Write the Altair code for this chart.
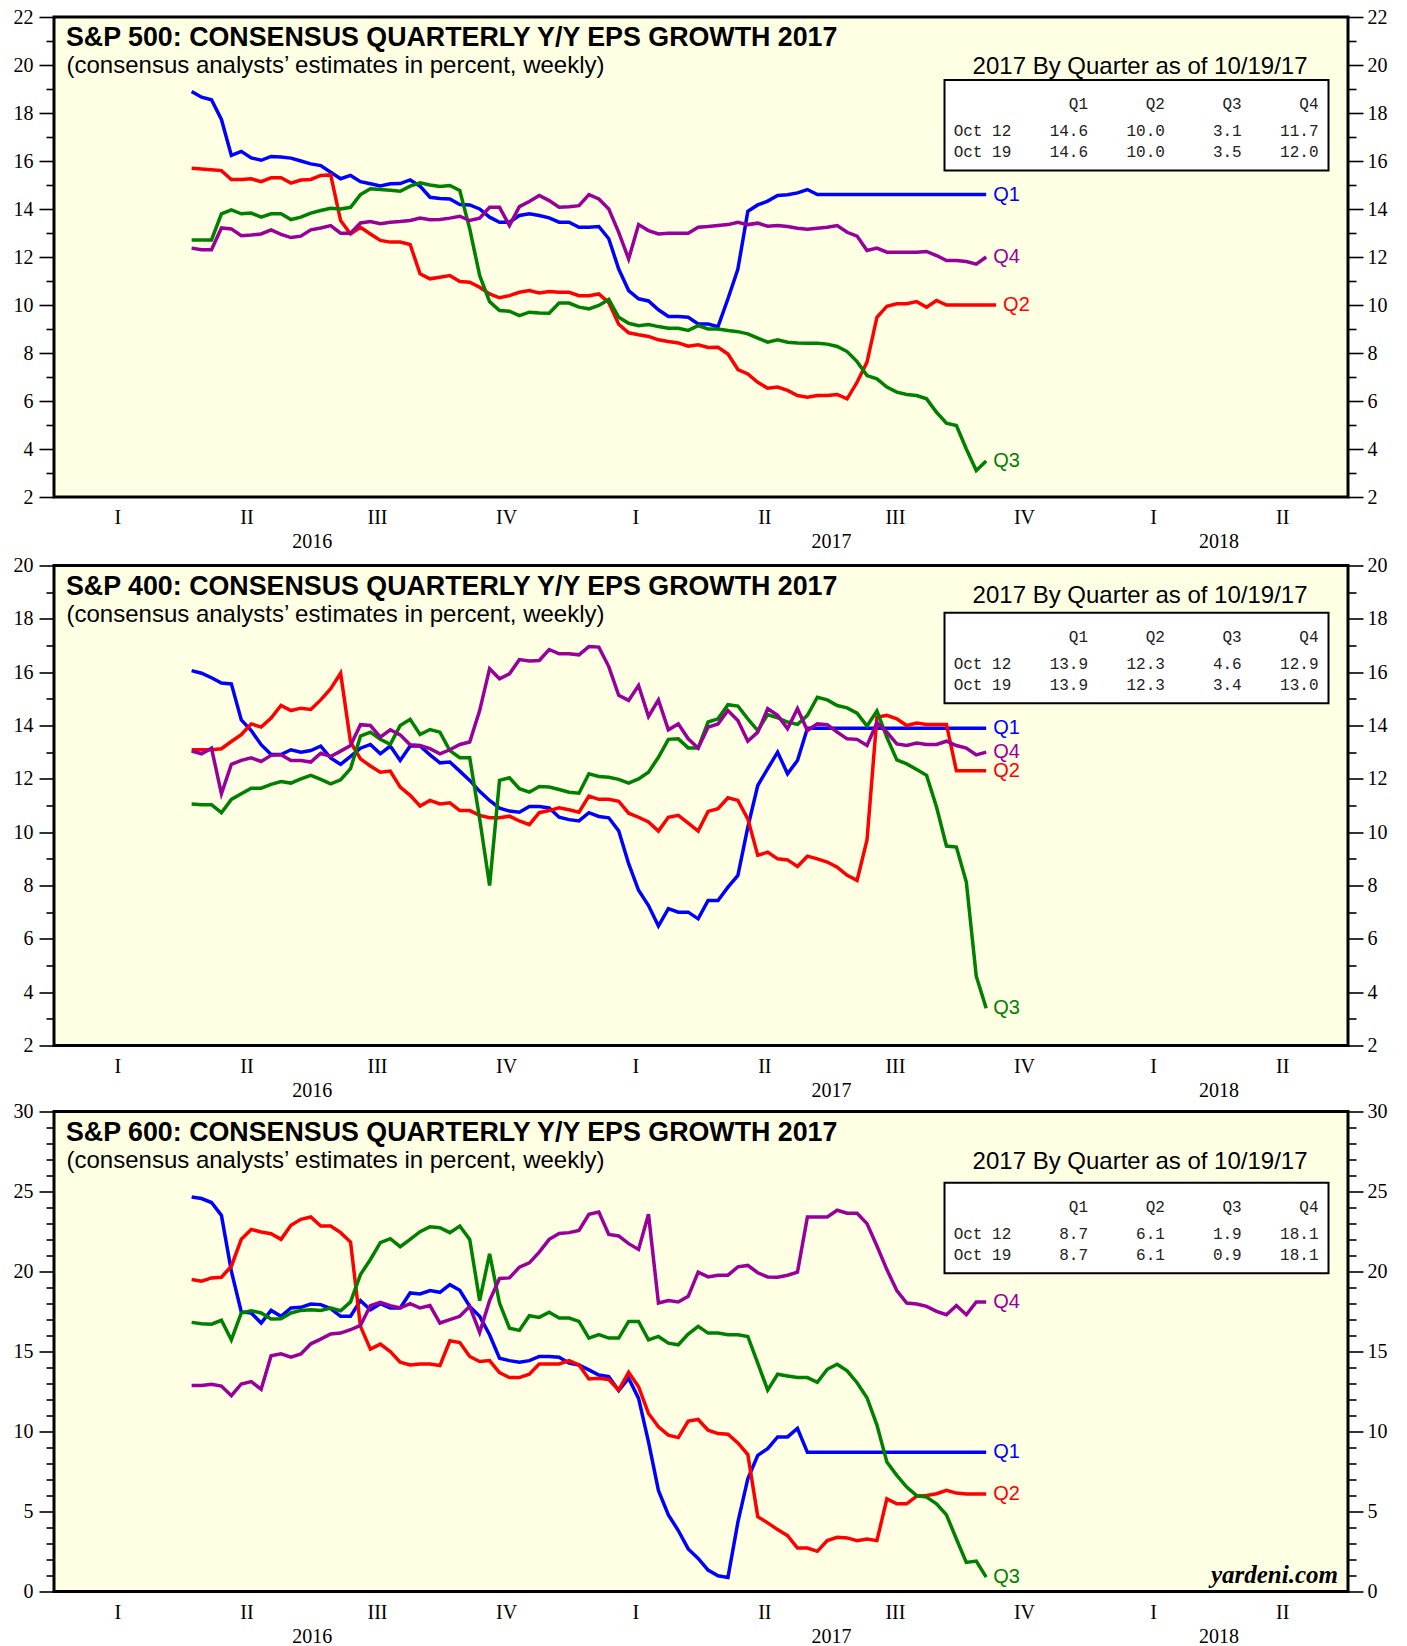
import altair as alt
import pandas as pd

QS = ["Q1", "Q2", "Q3", "Q4"]
COLORS = ["#0000FF", "#FF0000", "#008000", "#990099"]
W = 1294
H = 480

week0 = pd.Timestamp("2016-04-07")
weeks = [(week0 + pd.Timedelta(weeks=i)).strftime("%Y-%m-%d") for i in range(82)]

# ---------------- S&P 500 ----------------
sp500_q1 = [18.9, 18.66, 18.55, 17.73, 16.23, 16.4, 16.13, 16.03, 16.19, 16.17,
            16.12, 16.0, 15.88, 15.81, 15.53, 15.26, 15.4, 15.14, 15.05, 14.96,
            15.05, 15.06, 15.21, 14.95, 14.49, 14.44, 14.42, 14.19, 14.17, 14.0,
            13.66, 13.45, 13.45, 13.73, 13.8, 13.73, 13.63, 13.45, 13.45, 13.24,
            13.24, 13.27, 12.76, 11.5, 10.6, 10.26, 10.17, 9.8, 9.52, 9.52,
            9.49, 9.21, 9.21, 9.1, 10.26, 11.5, 13.9, 14.17, 14.33, 14.56,
            14.59, 14.67, 14.81, 14.6, 14.6, 14.6, 14.6, 14.6, 14.6, 14.6,
            14.6, 14.6, 14.6, 14.6, 14.6, 14.6, 14.6, 14.6, 14.6, 14.6,
            14.6]
sp500_q2 = [15.7, 15.67, 15.64, 15.6, 15.23, 15.23, 15.26, 15.14, 15.3, 15.3,
            15.08, 15.21, 15.23, 15.4, 15.42, 13.52, 12.96, 13.24, 12.96, 12.69,
            12.62, 12.62, 12.52, 11.3, 11.09, 11.16, 11.23, 10.98, 10.95, 10.74,
            10.46, 10.3, 10.39, 10.53, 10.6, 10.5, 10.56, 10.53, 10.53, 10.39,
            10.39, 10.46, 10.1, 9.2, 8.84, 8.76, 8.69, 8.55, 8.48, 8.42,
            8.28, 8.34, 8.23, 8.24, 7.96, 7.31, 7.13, 6.78, 6.53, 6.58,
            6.44, 6.23, 6.16, 6.23, 6.23, 6.27, 6.09, 6.78, 7.62, 9.49,
            9.95, 10.05, 10.05, 10.14, 9.91, 10.19, 10.0, 10.0, 10.0, 10.0,
            10.0, 10.0]
sp500_q3 = [12.71, 12.71, 12.71, 13.8, 13.96, 13.8, 13.83, 13.66, 13.8, 13.8,
            13.56, 13.66, 13.83, 13.94, 14.03, 14.0, 14.07, 14.6, 14.84, 14.81,
            14.78, 14.74, 14.95, 15.09, 15.0, 14.94, 14.98, 14.77, 13.17, 11.23,
            10.14, 9.77, 9.74, 9.56, 9.7, 9.67, 9.66, 10.08, 10.08, 9.91,
            9.84, 9.98, 10.23, 9.49, 9.24, 9.14, 9.19, 9.1, 9.03, 9.03,
            8.94, 9.14, 9.0, 9.0, 8.94, 8.89, 8.8, 8.62, 8.45, 8.55,
            8.45, 8.42, 8.41, 8.41, 8.37, 8.27, 8.06, 7.64, 7.06, 6.92,
            6.58, 6.37, 6.27, 6.23, 6.09, 5.53, 5.08, 4.98, 4.0, 3.1,
            3.5]
sp500_q4 = [12.37, 12.3, 12.3, 13.21, 13.17, 12.89, 12.92, 12.96, 13.13, 12.94,
            12.81, 12.87, 13.13, 13.21, 13.31, 12.99, 12.99, 13.42, 13.48, 13.39,
            13.45, 13.48, 13.52, 13.62, 13.55, 13.56, 13.62, 13.7, 13.52, 13.62,
            14.07, 14.07, 13.31, 14.1, 14.31, 14.56, 14.35, 14.07, 14.09, 14.14,
            14.6, 14.42, 14.0, 13.03, 11.92, 13.35, 13.1, 12.96, 12.99, 12.99,
            12.99, 13.24, 13.27, 13.31, 13.35, 13.45, 13.35, 13.41, 13.28, 13.31,
            13.27, 13.2, 13.16, 13.2, 13.24, 13.31, 13.03, 12.87, 12.27, 12.37,
            12.2, 12.2, 12.2, 12.2, 12.23, 12.06, 11.85, 11.85, 11.81, 11.7,
            12.0]

# ---------------- S&P 400 ----------------
sp400_q1 = [16.06, 15.96, 15.79, 15.59, 15.56, 14.21, 13.81, 13.28, 12.91, 12.91,
            13.09, 13.0, 13.06, 13.23, 12.78, 12.54, 12.84, 13.15, 13.29, 12.94,
            13.23, 12.69, 13.23, 13.23, 12.9, 12.6, 12.63, 12.29, 11.94, 11.53,
            11.19, 10.9, 10.79, 10.75, 10.96, 10.96, 10.91, 10.56, 10.47, 10.42,
            10.73, 10.59, 10.54, 10.05, 8.82, 7.82, 7.25, 6.48, 7.13, 7.0,
            7.0, 6.75, 7.44, 7.44, 7.94, 8.38, 10.19, 11.75, 12.38, 13.0,
            12.19, 12.69, 13.9, 13.9, 13.9, 13.9, 13.9, 13.9, 13.9, 13.9,
            13.9, 13.9, 13.9, 13.9, 13.9, 13.9, 13.9, 13.9, 13.9, 13.9,
            13.9]
sp400_q2 = [13.09, 13.09, 13.09, 13.13, 13.4, 13.66, 14.06, 13.94, 14.28, 14.75,
            14.56, 14.65, 14.6, 14.96, 15.38, 15.96, 13.38, 12.75, 12.48, 12.25,
            12.29, 11.69, 11.38, 10.98, 11.19, 11.06, 11.1, 10.81, 10.81, 10.63,
            10.54, 10.54, 10.6, 10.42, 10.28, 10.73, 10.81, 10.91, 10.84, 10.75,
            11.35, 11.23, 11.23, 11.16, 10.71, 10.56, 10.38, 10.04, 10.56, 10.63,
            10.34, 10.04, 10.78, 10.88, 11.29, 11.19, 10.5, 9.13, 9.25, 9.0,
            8.96, 8.71, 9.1, 9.0, 8.88, 8.69, 8.38, 8.19, 9.71, 14.31,
            14.38, 14.25, 14.0, 14.09, 14.04, 14.04, 14.04, 12.3, 12.3, 12.3,
            12.3]
sp400_q3 = [11.06, 11.03, 11.03, 10.73, 11.23, 11.44, 11.65, 11.65, 11.79, 11.9,
            11.84, 12.0, 12.13, 11.98, 11.81, 11.96, 12.38, 13.6, 13.75, 13.48,
            13.29, 14.0, 14.23, 13.66, 13.85, 13.75, 13.06, 12.79, 12.79, 10.5,
            8.0, 11.94, 12.04, 11.63, 11.5, 11.71, 11.69, 11.6, 11.5, 11.46,
            12.19, 12.09, 12.06, 11.98, 11.84, 12.0, 12.25, 12.81, 13.48, 13.5,
            13.16, 13.16, 14.13, 14.25, 14.78, 14.73, 14.25, 13.81, 14.41, 14.29,
            14.13, 14.04, 14.38, 15.06, 14.96, 14.75, 14.66, 14.46, 13.98, 14.54,
            13.56, 12.71, 12.56, 12.35, 12.13, 10.94, 9.48, 9.44, 8.13, 4.6,
            3.4]
sp400_q4 = [13.04, 12.94, 13.15, 11.44, 12.54, 12.69, 12.79, 12.65, 12.88, 12.9,
            12.69, 12.69, 12.63, 12.96, 12.84, 13.04, 13.25, 14.03, 14.0, 13.56,
            13.84, 13.65, 13.28, 13.25, 13.13, 12.94, 13.09, 13.29, 13.38, 14.56,
            16.13, 15.75, 15.94, 16.47, 16.42, 16.44, 16.85, 16.69, 16.69, 16.65,
            16.96, 16.94, 16.21, 15.13, 14.94, 15.5, 14.34, 14.96, 13.84, 14.06,
            13.5, 13.15, 13.94, 14.06, 14.56, 14.19, 13.41, 13.75, 14.63, 14.38,
            13.88, 14.63, 13.81, 14.06, 14.03, 13.75, 13.5, 13.48, 13.25, 14.1,
            13.75, 13.31, 13.25, 13.34, 13.29, 13.29, 13.41, 13.25, 13.15, 12.9,
            13.0]

# ---------------- S&P 600 ----------------
sp600_q1 = [24.66, 24.56, 24.31, 23.51, 20.02, 17.47, 17.41, 16.78, 17.57, 17.2,
            17.72, 17.76, 17.97, 17.93, 17.68, 17.2, 17.2, 18.18, 17.61, 17.99,
            17.72, 17.72, 18.66, 18.6, 18.81, 18.7, 19.18, 18.83, 17.82, 17.2,
            16.05, 14.58, 14.43, 14.33, 14.43, 14.69, 14.69, 14.64, 14.27, 14.16,
            13.85, 13.53, 13.43, 12.55, 13.33, 12.07, 9.35, 6.32, 4.79, 3.81,
            2.66, 2.07, 1.34, 0.98, 0.88, 4.33, 7.05, 8.51, 8.93, 9.66,
            9.66, 10.19, 8.7, 8.7, 8.7, 8.7, 8.7, 8.7, 8.7, 8.7,
            8.7, 8.7, 8.7, 8.7, 8.7, 8.7, 8.7, 8.7, 8.7, 8.7,
            8.7]
sp600_q2 = [19.5, 19.39, 19.6, 19.64, 20.33, 22.01, 22.63, 22.47, 22.36, 22.01,
            22.89, 23.26, 23.41, 22.84, 22.84, 22.43, 21.84, 16.57, 15.15, 15.46,
            15.0, 14.33, 14.16, 14.22, 14.22, 14.12, 15.67, 15.56, 14.69, 14.37,
            14.43, 13.68, 13.37, 13.37, 13.58, 14.22, 14.22, 14.22, 14.43, 14.16,
            13.28, 13.33, 13.25, 12.59, 13.7, 12.8, 11.13, 10.29, 9.77, 9.62,
            10.65, 10.75, 10.08, 9.87, 9.83, 9.29, 8.56, 4.68, 4.29, 3.87,
            3.49, 2.72, 2.72, 2.51, 3.18, 3.39, 3.35, 3.18, 3.28, 3.18,
            5.79, 5.48, 5.48, 5.96, 6.0, 6.11, 6.32, 6.15, 6.1, 6.1,
            6.1]
sp600_q3 = [16.82, 16.74, 16.71, 16.95, 15.73, 17.41, 17.55, 17.41, 17.03, 17.05,
            17.41, 17.57, 17.61, 17.57, 17.72, 17.55, 18.1, 19.81, 20.75, 21.8,
            22.05, 21.55, 22.01, 22.49, 22.8, 22.74, 22.43, 22.84, 22.01, 18.18,
            21.11, 18.03, 16.46, 16.32, 17.24, 17.13, 17.45, 17.09, 17.09, 16.88,
            15.84, 16.05, 15.84, 15.84, 16.88, 16.88, 15.73, 15.94, 15.52, 15.42,
            16.09, 16.57, 16.15, 16.15, 16.05, 16.05, 15.94, 14.27, 12.59, 13.58,
            13.47, 13.37, 13.37, 13.07, 13.89, 14.2, 13.79, 13.05, 12.11, 10.4,
            8.09, 7.26, 6.53, 6.0, 5.9, 5.48, 4.79, 3.28, 1.82, 1.9,
            0.9]
sp600_q4 = [12.87, 12.87, 12.95, 12.84, 12.24, 12.97, 13.12, 12.64, 14.73, 14.85,
            14.64, 14.85, 15.48, 15.77, 16.09, 16.15, 16.36, 16.63, 17.87, 18.07,
            17.87, 17.72, 17.99, 17.72, 17.87, 16.78, 16.99, 17.2, 17.82, 16.19,
            18.18, 19.56, 19.6, 20.27, 20.54, 21.21, 22.01, 22.38, 22.43, 22.57,
            23.58, 23.72, 22.32, 22.22, 21.74, 21.38, 23.58, 18.03, 18.18, 18.1,
            18.45, 19.96, 19.66, 19.77, 19.77, 20.29, 20.38, 19.92, 19.66, 19.64,
            19.77, 19.96, 23.41, 23.41, 23.41, 23.83, 23.64, 23.64, 22.99, 21.59,
            20.12, 18.81, 18.03, 17.97, 17.82, 17.51, 17.3, 17.87, 17.3, 18.1,
            18.1]

quarter_mid = ["2016-02-15", "2016-05-16", "2016-08-16", "2016-11-15",
               "2017-02-14", "2017-05-16", "2017-08-16", "2017-11-15",
               "2018-02-14", "2018-05-16"]
quarter_lab = ["I", "II", "III", "IV", "I", "II", "III", "IV", "I", "II"]
year_mid = ["2016-07-01", "2017-07-02", "2018-04-01"]
year_lab = ["2016", "2017", "2018"]

SUBTITLE = "(consensus analysts\u2019 estimates in percent, weekly)"
TABLE_TITLE = "2017 By Quarter as of 10/19/17"
NB = "\u00a0"
OCT12 = weeks.index("2017-10-12")
OCT19 = weeks.index("2017-10-19")

XSCALE = alt.Scale(domain=[alt.DateTime(year=2016, month=1, date=1),
                           alt.DateTime(year=2018, month=7, date=1)])
XAXIS = alt.Axis(values=[alt.DateTime(year=2016, month=1, date=1),
                         alt.DateTime(year=2017, month=1, date=1),
                         alt.DateTime(year=2018, month=1, date=1)],
                 labels=False, tickSize=18, tickWidth=2.2, tickColor="black",
                 domain=False, grid=False, title=None)
COLOR = alt.Color("q:N", scale=alt.Scale(domain=QS, range=COLORS), legend=None)


def yaxis(orient, vals, size, labels, min_extent=None):
    kw = dict(orient=orient, values=vals, tickSize=size, labels=labels,
              domain=False, grid=False, title=None, tickColor="black",
              tickWidth=1.6, labelFont="Liberation Serif", labelFontSize=20,
              labelColor="black", labelPadding=6 if orient == "left" else 4)
    if min_extent is not None:
        kw["minExtent"] = min_extent
    return alt.Axis(**kw)


def one(text):
    return pd.DataFrame({"t": [text]})


def panel(title, series, ydom, major, minor, tt_y, box_top, yardeni):
    rows = []
    for q, vals in zip(QS, series):
        for d, v in zip(weeks, vals):
            rows.append({"date": d, "v": v, "q": q})
    df = pd.DataFrame(rows)
    last = df.groupby("q").tail(1)
    ys = alt.Scale(domain=ydom, nice=False, zero=False)
    xa = alt.X("date:T", scale=XSCALE, axis=XAXIS)
    xn = alt.X("date:T", scale=XSCALE, axis=None)

    lines = alt.Chart(df).mark_line(strokeWidth=3.5).encode(
        x=xa, y=alt.Y("v:Q", scale=ys, axis=yaxis("left", major, 15, True, 44.5)),
        color=COLOR)
    ends = alt.Chart(last).mark_text(align="left", baseline="middle", dx=7,
                                     font="Liberation Sans", fontSize=20).encode(
        x=xn, y=alt.Y("v:Q", scale=ys, axis=yaxis("right", major, 15, True)),
        text="q:N", color=COLOR)
    minor_l = alt.Chart(last).mark_point(opacity=0).encode(
        x=xn, y=alt.Y("v:Q", scale=ys, axis=yaxis("left", minor, 8, False)))
    minor_r = alt.Chart(last).mark_point(opacity=0).encode(
        x=xn, y=alt.Y("v:Q", scale=ys, axis=yaxis("right", minor, 8, False)))

    ttl = alt.Chart(one(title)).mark_text(
        align="left", baseline="alphabetic", font="Liberation Sans", fontSize=26.8,
        fontWeight="bold", color="black").encode(
        x=alt.value(12), y=alt.value(29.3), text="t:N")
    sub = alt.Chart(one(SUBTITLE)).mark_text(
        align="left", baseline="alphabetic", font="Liberation Sans", fontSize=24,
        color="black").encode(x=alt.value(12.5), y=alt.value(56), text="t:N")
    ttab = alt.Chart(one(TABLE_TITLE)).mark_text(
        align="right", baseline="alphabetic", font="Liberation Sans", fontSize=24,
        color="black").encode(x=alt.value(1253.5), y=alt.value(tt_y), text="t:N")
    box = alt.Chart(one("box")).mark_rect(fill="white", stroke="black",
                                          strokeWidth=2).encode(
        x=alt.value(890.5), x2=alt.value(1274.5),
        y=alt.value(box_top), y2=alt.value(box_top + 90.5))

    header = QS[0] + "".join(q.rjust(8) for q in QS[1:])
    r12 = "Oct 12" + "".join(f"{s[OCT12]:.1f}".rjust(8) for s in series)
    r19 = "Oct 19" + "".join(f"{s[OCT19]:.1f}".rjust(8) for s in series)
    trows = []
    for txt, dy in [(header, 29.3), (r12, 56.2), (r19, 76.8)]:
        trows.append(alt.Chart(one(txt.replace(" ", NB))).mark_text(
            align="right", baseline="alphabetic", font="Liberation Mono",
            fontSize=16, color="#222222").encode(
            x=alt.value(1264.5), y=alt.value(box_top + dy), text="t:N"))

    qdf = pd.DataFrame({"date": quarter_mid, "lab": quarter_lab})
    ydf = pd.DataFrame({"date": year_mid, "lab": year_lab})
    qlab = alt.Chart(qdf).mark_text(baseline="alphabetic", font="Liberation Serif",
                                    fontSize=20, color="black").encode(
        x=xn, y=alt.value(H + 27), text="lab:N")
    ylab = alt.Chart(ydf).mark_text(baseline="alphabetic", font="Liberation Serif",
                                    fontSize=20, color="black").encode(
        x=xn, y=alt.value(H + 51), text="lab:N")

    layers = [lines, ends, minor_l, minor_r, box, ttl, sub, ttab] + trows + [qlab, ylab]
    if yardeni:
        layers.append(alt.Chart(one("yardeni.com")).mark_text(
            align="right", baseline="alphabetic", font="Liberation Serif",
            fontSize=25, fontStyle="italic", fontWeight="bold", color="black").encode(
            x=alt.value(W - 10), y=alt.value(H - 9), text="t:N"))
    return alt.layer(*layers).resolve_axis(y="independent").properties(width=W, height=H)


p1 = panel("S&P 500: CONSENSUS QUARTERLY Y/Y EPS GROWTH 2017",
           [sp500_q1, sp500_q2, sp500_q3, sp500_q4], [2, 22],
           list(range(2, 23, 2)), list(range(3, 22, 2)), 57, 63, False)
p2 = panel("S&P 400: CONSENSUS QUARTERLY Y/Y EPS GROWTH 2017",
           [sp400_q1, sp400_q2, sp400_q3, sp400_q4], [2, 20],
           list(range(2, 21, 2)), list(range(3, 20, 2)), 37.7, 47.3, False)
p3 = panel("S&P 600: CONSENSUS QUARTERLY Y/Y EPS GROWTH 2017",
           [sp600_q1, sp600_q2, sp600_q3, sp600_q4], [0, 30],
           list(range(0, 31, 5)), [v for v in range(1, 30) if v % 5], 57.3, 71.3, True)

chart = alt.vconcat(alt.vconcat(p1, p2, spacing=-0.5), p3, spacing=-2.5).properties(
    padding={"left": 0, "top": -3, "right": 0, "bottom": 0}).configure_view(
    stroke="black", strokeWidth=3, fill="#FFFFE4")

chart.save("out.html", embed_options={"renderer": "svg", "actions": False})
